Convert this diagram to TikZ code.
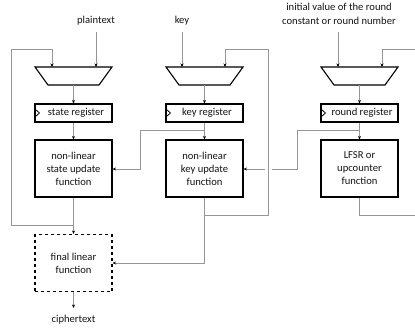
\documentclass[tikz,border=0pt]{standalone}
\usepackage{fontspec}
\setmainfont{Carlito}
\usetikzlibrary{arrows.meta}
\definecolor{wirecol}{RGB}{150,150,150}
\definecolor{txtcol}{RGB}{20,20,20}
\begin{document}
\begin{tikzpicture}[x=1pt,y=-1pt,
  wire/.style={draw=wirecol, line width=0.9pt},
  arr/.style={wire, -{Stealth[length=3.5pt,width=3pt,black]}},
  blk/.style={draw=black, line width=1.1pt, fill=white, minimum width=77pt, inner sep=0pt,
    align=center, text=txtcol, font=\fontsize{10.6}{13}\selectfont},
  reg/.style={blk, minimum height=18pt},
  fun/.style={blk, minimum height=57pt},
  lbl/.style={text=txtcol, align=center, inner sep=0pt, font=\fontsize{10.6}{14}\selectfont},
  muxshape/.style={draw=black, line width=1.1pt, fill=white},
  clk/.style={draw=black, line width=0.8pt}]
\useasboundingbox (0,0) rectangle (415,329);

% labels
\node[lbl] (pt) at (96,21) {plaintext};
\node[lbl] (ky) at (182,21) {key};
\node[lbl] (iv) at (339,14) {initial value of the round\\constant or round number};
\node[lbl] (ct) at (73.5,320) {ciphertext};

% muxes
\draw[muxshape] (35,67) -- (112,67) -- (99,85) -- (48,85) -- cycle;
\draw[muxshape] (166,67) -- (243,67) -- (230,85) -- (179,85) -- cycle;
\draw[muxshape] (321,67) -- (398,67) -- (385,85) -- (334,85) -- cycle;
\coordinate (m1a) at (52,67); \coordinate (m1b) at (96,67); \coordinate (m1o) at (73.5,85);
\coordinate (m2a) at (182,67); \coordinate (m2b) at (225,67); \coordinate (m2o) at (204.5,85);
\coordinate (m3a) at (338,67); \coordinate (m3b) at (382,67); \coordinate (m3o) at (359.5,85);

% registers
\node[reg] (sreg) at (73.5,113) {\hspace*{5pt}state register};
\node[reg] (kreg) at (204.5,113) {\hspace*{5pt}key register};
\node[reg] (rreg) at (359.5,113) {\hspace*{5pt}round register};
\foreach \r in {sreg,kreg,rreg}{
  \draw[clk] ([yshift=4.5pt]\r.west) -- ([xshift=5pt]\r.west) -- ([yshift=-4.5pt]\r.west);
}

% functions
\node[fun] (sfun) at (73.5,168.5) {non-linear\\state update\\function};
\node[fun] (kfun) at (204.5,168.5) {non-linear\\key update\\function};
\node[fun] (rfun) at (359.5,168.5) {LFSR or\\upcounter\\function};
\node[fun, dashed] (ffun) at (73.5,263) {final linear\\function};

% coordinates for wires
\coordinate (ptop) at (96,32);
\coordinate (ktop) at (182,32);
\coordinate (itop) at (338,32);
\coordinate (sj) at (73.5,225);
\coordinate (sl1) at (11,225);
\coordinate (sl2) at (11,49);
\coordinate (sl3) at (52,49);
\coordinate (kb) at (204.5,130);
\coordinate (kb1) at (140,130);
\coordinate (kb2) at (140,169);
\coordinate (rb) at (359.5,130);
\coordinate (rb1) at (297,130);
\coordinate (rb2) at (297,169);
\coordinate (gapR) at (271.5,169);
\coordinate (gapL) at (264.5,169);
\coordinate (kj) at (204.5,215);
\coordinate (kr1) at (268,215);
\coordinate (kr2) at (268,49);
\coordinate (kr3) at (225,49);
\coordinate (kd) at (204.5,263);
\coordinate (re1) at (415,49);
\coordinate (re2) at (382,49);
\coordinate (rj) at (359.5,215);
\coordinate (re3) at (415,215);
\coordinate (cend) at (73.5,308);

% inputs
\draw[arr] (ptop) -- (m1b);
\draw[arr] (ktop) -- (m2a);
\draw[arr] (itop) -- (m3a);

% mux -> register
\draw[arr] (m1o) -- (sreg.north);
\draw[arr] (m2o) -- (kreg.north);
\draw[arr] (m3o) -- (rreg.north);

% register -> function
\draw[arr] (sreg.south) -- (sfun.north);
\draw[arr] (kreg.south) -- (kfun.north);
\draw[arr] (rreg.south) -- (rfun.north);

% key register -> state function
\draw[arr] (kb) -- (kb1) -- (kb2) -- (kb2 -| sfun.east);
% round register -> key function (with gap)
\draw[wire] (rb) -- (rb1) -- (rb2) -- (gapR);
\draw[arr] (gapL) -- (gapL -| kfun.east);

% state feedback and output
\draw[arr] (sfun.south) -- (ffun.north);
\draw[arr] (sj) -- (sl1) -- (sl2) -- (sl3) -- (m1a);

% key feedback and output
\draw[arr] (kfun.south) -- (kd) -- (ffun.east);
\draw[arr] (kj) -- (kr1) -- (kr2) -- (kr3) -- (m2b);

% round feedback
\draw[arr] (re1) -- (re2) -- (m3b);
\draw[wire] (rfun.south) -- (rj) -- (re3);

% output
\draw[arr] (ffun.south) -- (cend);
\end{tikzpicture}
\end{document}
